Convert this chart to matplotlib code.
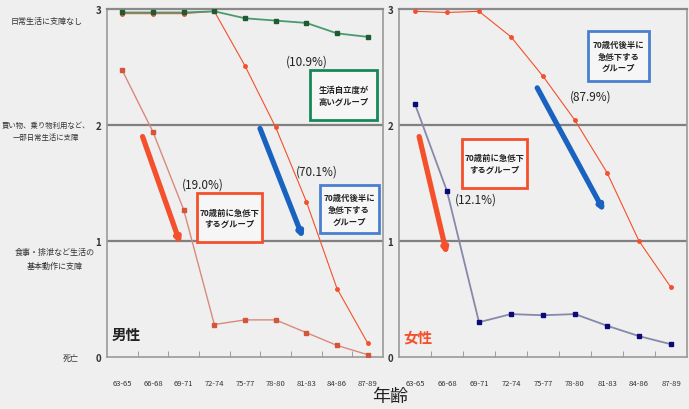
import numpy as np
import matplotlib
matplotlib.use("Agg")
import matplotlib.pyplot as plt
from matplotlib.patches import Rectangle

plt.rcParams['font.family'] = ['Noto Sans CJK JP', 'DejaVu Sans']

ages = ["63-65", "66-68", "69-71", "72-74", "75-77", "78-80", "81-83", "84-86", "87-89"]
level_labels = ["死亡", "食事・排泄など生活の\n基本動作に支障",
                "買い物、乗り物利用など、\n一部日常生活に支障", "日常生活に支障なし"]
level_pos = [0.0, 0.85, 1.95, 2.90]

# 男性
men_high = [2.97, 2.97, 2.97, 2.98, 2.92, 2.90, 2.88, 2.79, 2.76]
men_late = [2.96, 2.96, 2.96, 2.98, 2.51, 1.98, 1.34, 0.59, 0.12]
men_early = [2.47, 1.94, 1.27, 0.28, 0.32, 0.32, 0.21, 0.10, 0.02]
# 女性
women_late = [2.98, 2.97, 2.98, 2.76, 2.42, 2.04, 1.59, 1.00, 0.60]
women_early = [2.18, 1.43, 0.30, 0.37, 0.36, 0.37, 0.27, 0.18, 0.11]

BG = "#efefef"
RED = "#f4502c"
BLUE = "#1a62c0"
GREEN = "#17875a"

fig = plt.figure(figsize=(6.89, 4.10), dpi=100, facecolor=BG)
ax1 = fig.add_axes([0.1553, 0.1268, 0.4006, 0.8488])
ax2 = fig.add_axes([0.5791, 0.1268, 0.4180, 0.8488])

x = np.arange(len(ages))

for ax in (ax1, ax2):
    ax.set_facecolor(BG)
    ax.set_xlim(-0.5, 8.5)
    ax.set_ylim(0, 3)
    ax.set_yticks([0, 1, 2, 3])
    ax.set_yticklabels(["0", "1", "2", "3"], fontsize=7, fontweight="bold", color="#333333")
    ax.tick_params(axis="y", length=0, pad=4)
    ax.set_xticks(x)
    ax.set_xticklabels(ages, fontsize=5.5, color="#333333")
    ax.tick_params(axis="x", length=0, pad=16)
    ax.set_xticks(np.arange(0.5, 8.5, 1), minor=True)
    ax.tick_params(axis="x", which="minor", direction="in", length=4, color="#909090")
    for s in ax.spines.values():
        s.set_color("#9a9a9a")
        s.set_linewidth(1.2)
    for yv in (1, 2):
        ax.axhline(yv, color="#808080", lw=1.6, zorder=1)
    ax.spines["top"].set_color("#8a8a8a")
    ax.spines["top"].set_linewidth(1.6)

# left panel lines
ax1.plot(x, men_early, color="#d98a7c", lw=1, marker="s", ms=3.5,
         mfc="#d4553a", mec="#d4553a", zorder=3)
ax1.plot(x, men_late, color=RED, lw=0.8, marker="o", ms=2.5,
         mfc=RED, mec=RED, zorder=3)
ax1.plot(x, men_high, color="#4a9a70", lw=1.3, marker="s", ms=2.8,
         mfc="#1f5a30", mec="#1f5a30", zorder=4)

# right panel lines
ax2.plot(x, women_late, color=RED, lw=0.8, marker="o", ms=2.5,
         mfc=RED, mec=RED, zorder=3)
ax2.plot(x, women_early, color="#8888aa", lw=1.3, marker="s", ms=3.5,
         mfc="#0a0a7a", mec="#0a0a7a", zorder=3)

# level labels on the left
label_x = [-0.130, -0.188, -0.222, -0.217]
label_fs = [5.8, 5.8, 5.3, 5.8]
for yv, lab, lx, fs in zip(level_pos, level_labels, label_x, label_fs):
    ax1.text(lx, yv, lab, transform=ax1.get_yaxis_transform(),
             ha="center", va="center", fontsize=fs, color="#333333", linespacing=1.8)


def arrow(ax, start, end, color):
    ax.annotate("", xy=end, xytext=start,
                arrowprops=dict(arrowstyle="-|>", lw=3.8, color=color,
                                mutation_scale=7, shrinkA=0, shrinkB=0), zorder=5)


def box(ax, x0, x1, y0, y1, color, text):
    ax.add_patch(Rectangle((x0, y0), x1 - x0, y1 - y0, fill=True, facecolor="#f6f6f6",
                           edgecolor=color, lw=2, zorder=6))
    ax.text((x0 + x1) / 2, (y0 + y1) / 2, text, ha="center", va="center",
            fontsize=6, fontweight="bold", color="#222222", linespacing=1.4, zorder=7)


arrow(ax1, (0.66, 1.90), (1.90, 0.97), RED)
arrow(ax1, (4.49, 1.97), (5.90, 1.02), BLUE)
arrow(ax2, (0.13, 1.90), (1.00, 0.88), RED)
arrow(ax2, (3.82, 2.32), (5.92, 1.25), BLUE)

box(ax1, 6.13, 8.30, 2.04, 2.47, GREEN, "生活自立度が\n高いグループ")
box(ax1, 6.43, 8.36, 1.07, 1.48, "#4a7fd0", "70歳代後半に\n急低下する\nグループ")
box(ax1, 2.43, 4.56, 0.99, 1.41, RED, "70歳前に急低下\nするグループ")
box(ax2, 5.42, 7.30, 2.38, 2.81, "#4a7fd0", "70歳代後半に\n急低下する\nグループ")
box(ax2, 1.47, 3.51, 1.46, 1.88, RED, "70歳前に急低下\nするグループ")

pct = dict(ha="center", va="center", fontsize=8.5, color="#222222", zorder=7)
ax1.text(6.03, 2.55, "(10.9%)", **pct)
ax1.text(6.33, 1.60, "(70.1%)", **pct)
ax1.text(2.62, 1.49, "(19.0%)", **pct)
ax2.text(5.49, 2.25, "(87.9%)", **pct)
ax2.text(1.91, 1.36, "(12.1%)", **pct)

ax1.text(-0.35, 0.20, "男性", fontsize=10.5, fontweight="bold", color="#222222", va="center")
ax2.text(-0.35, 0.18, "女性", fontsize=10.5, fontweight="bold", color=RED, va="center")

fig.text(390 / 689, 1 - 397 / 410, "年齢", ha="center", va="center", fontsize=13, color="#222222")

fig.savefig("out.png", dpi=100, facecolor=BG)
